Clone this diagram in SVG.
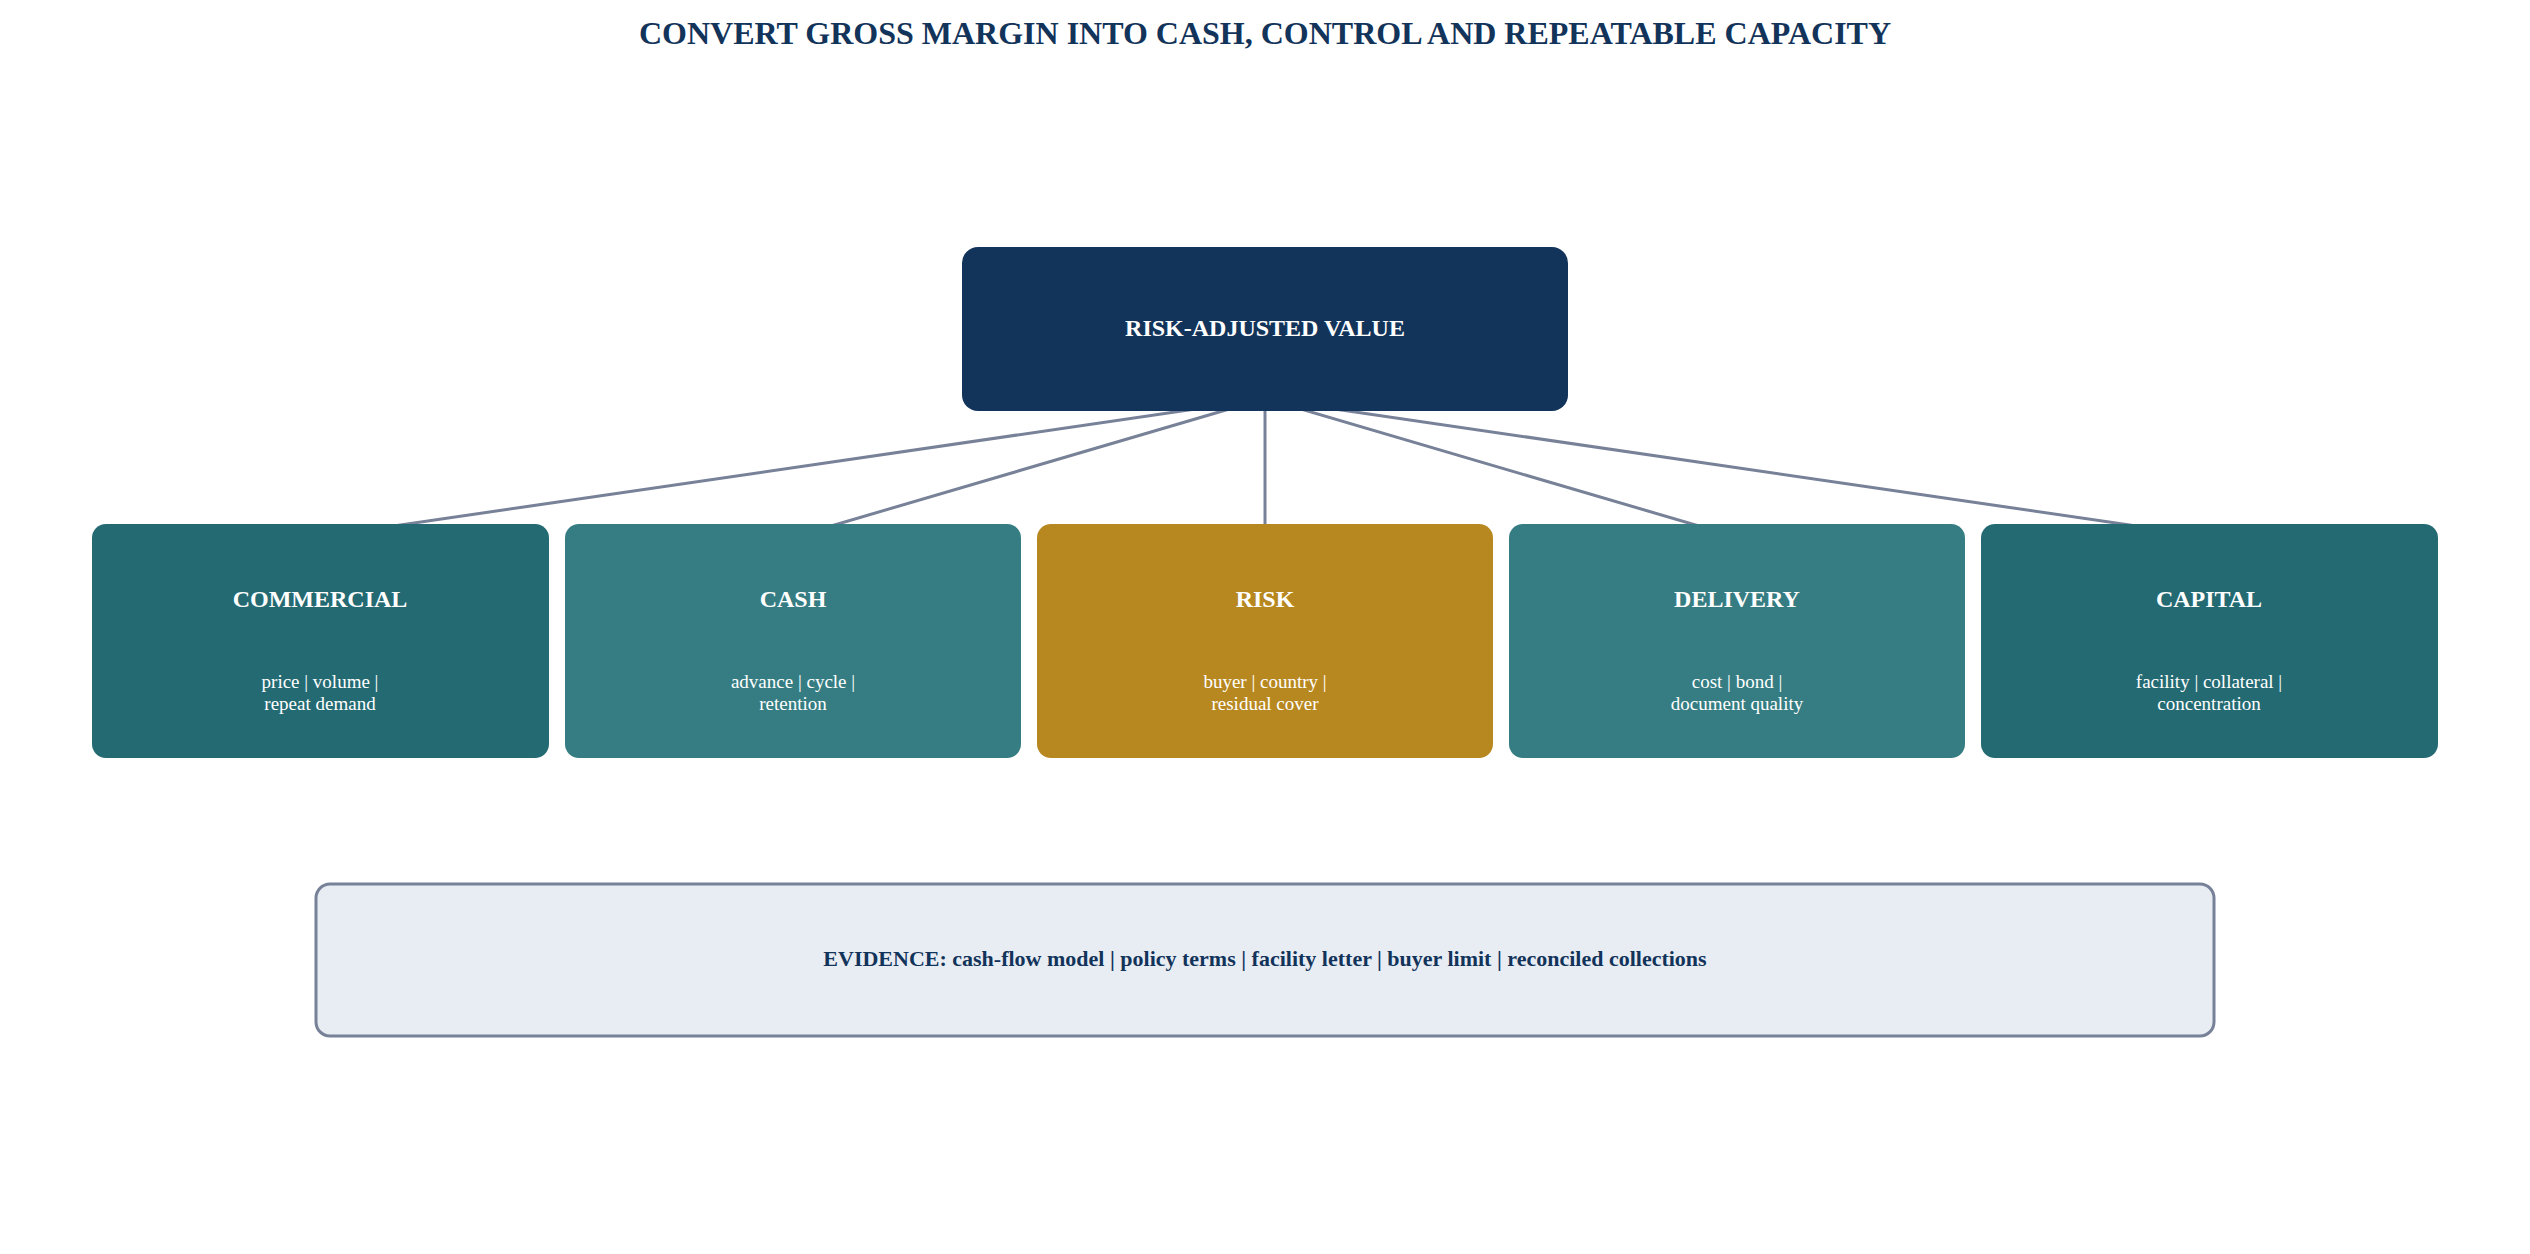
<svg xmlns="http://www.w3.org/2000/svg" width="2530" height="1254" viewBox="0 0 2530 1254">
<style>
text{font-family:"Liberation Serif","Times New Roman",serif;text-anchor:middle}
.t{fill:#fff;font-weight:bold;font-size:24px}
.s{fill:#fff;font-size:19px}
.c{stroke:#778197;stroke-width:3;fill:none;marker-end:url(#a)}
</style>
<defs><marker id="a" markerWidth="10" markerHeight="10" refX="9" refY="5" orient="auto" markerUnits="userSpaceOnUse" viewBox="0 0 10 10"><path d="M0,0L10,5L0,10z" fill="#778197"/></marker>
<marker id="b" markerWidth="18" markerHeight="18" refX="16" refY="9" orient="auto" markerUnits="userSpaceOnUse" viewBox="0 0 18 18"><path d="M0,2L18,9L0,16z" fill="#778197"/></marker></defs>
<rect width="2530" height="1254" fill="#fff"/>
<text x="1265" y="44" font-size="32" font-weight="bold" fill="#13345A">CONVERT GROSS MARGIN INTO CASH, CONTROL AND REPEATABLE CAPACITY</text>
<g id="connectors">
<path class="c" marker-end="url(#b)" d="M325,536L1257,400"/>
<path class="c" marker-end="url(#b)" d="M797,536L1260,400"/>
<path class="c" marker-end="url(#b)" d="M1265,524L1265,400"/>
<path class="c" marker-end="url(#b)" d="M1733,536L1270,400"/>
<path class="c" marker-end="url(#b)" d="M2205,536L1273,400"/>
</g>
<g id="value"><rect x="962" y="247" width="606" height="164" rx="16" fill="#13345A"/><text class="t" x="1265" y="336" font-size="27">RISK-ADJUSTED VALUE</text></g>
<g id="commercial"><rect x="92" y="524" width="457" height="234" rx="14" fill="#246A73"/><text class="t" x="320" y="607">COMMERCIAL</text><text class="s" x="320" y="688">price | volume |</text><text class="s" x="320" y="710">repeat demand</text></g>
<g id="cash"><rect x="565" y="524" width="456" height="234" rx="14" fill="#357D82"/><text class="t" x="793" y="607">CASH</text><text class="s" x="793" y="688">advance | cycle |</text><text class="s" x="793" y="710">retention</text></g>
<g id="risk"><rect x="1037" y="524" width="456" height="234" rx="14" fill="#B88820"/><text class="t" x="1265" y="607">RISK</text><text class="s" x="1265" y="688">buyer | country |</text><text class="s" x="1265" y="710">residual cover</text></g>
<g id="delivery"><rect x="1509" y="524" width="456" height="234" rx="14" fill="#357D82"/><text class="t" x="1737" y="607">DELIVERY</text><text class="s" x="1737" y="688">cost | bond |</text><text class="s" x="1737" y="710">document quality</text></g>
<g id="capital"><rect x="1981" y="524" width="457" height="234" rx="14" fill="#246A73"/><text class="t" x="2209" y="607">CAPITAL</text><text class="s" x="2209" y="688">facility | collateral |</text><text class="s" x="2209" y="710">concentration</text></g>
<g id="evidence"><rect x="316" y="884" width="1898" height="152" rx="14" fill="#E8EDF4" stroke="#778197" stroke-width="3"/><text x="1265" y="966" font-size="22" font-weight="bold" fill="#13345A">EVIDENCE: cash-flow model | policy terms | facility letter | buyer limit | reconciled collections</text></g>
</svg>
